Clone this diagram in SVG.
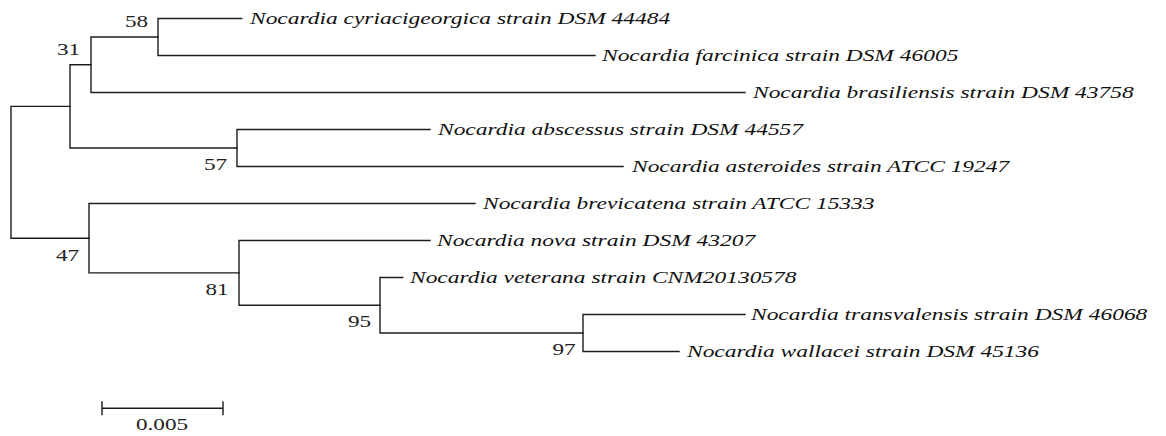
<svg xmlns="http://www.w3.org/2000/svg" width="1166" height="436" viewBox="0 0 1166 436">
<style>
.br{fill:none;stroke:#1c1c1c;stroke-width:1.4;stroke-linecap:square}
.lab{font-family:"Liberation Serif","Times New Roman",serif;font-style:italic;font-size:17px;fill:#111}
.bs{font-family:"Liberation Serif","Times New Roman",serif;font-size:17px;fill:#222;text-anchor:end}
.sc{font-family:"Liberation Serif","Times New Roman",serif;font-size:17px;fill:#222;text-anchor:middle}
</style>
<rect width="1166" height="436" fill="#fff"/>
<g id="connectors" class="br">
<path d="M11 106.4V238.2M11 106.4H70M11 238.2H89"/>
<path d="M70 64.75V148M70 64.75H91M70 148H237"/>
<path d="M91 37V92.5M91 37H158M91 92.5H745"/>
<path d="M158 18.5V55.5M158 18.5H241.7M158 55.5H595"/>
<path d="M237 129.5V166.5M237 129.5H430M237 166.5H623"/>
<path d="M89 203.5V272.9M89 203.5H475M89 272.9H239"/>
<path d="M239 240.5V305.25M239 240.5H430M239 305.25H380"/>
<path d="M380 277.5V333M380 277.5H402.7M380 333H583"/>
<path d="M583 314.5V351.5M583 314.5H745M583 351.5H679"/>
</g>
<g id="node-root"></g>
<g id="node-31"><text class="bs" transform="translate(80,55) scale(1.36,1)">31</text></g>
<g id="node-58"><text class="bs" transform="translate(148,27) scale(1.36,1)">58</text></g>
<g id="node-57"><text class="bs" transform="translate(227,170) scale(1.36,1)">57</text></g>
<g id="node-47"><text class="bs" transform="translate(79,261) scale(1.36,1)">47</text></g>
<g id="node-81"><text class="bs" transform="translate(228.5,295) scale(1.36,1)">81</text></g>
<g id="node-95"><text class="bs" transform="translate(371,327) scale(1.36,1)">95</text></g>
<g id="node-97"><text class="bs" transform="translate(575.5,355) scale(1.36,1)">97</text></g>
<g id="leaf-cyriacigeorgica"><text class="lab" transform="translate(250,23.5) scale(1.38,1)">Nocardia cyriacigeorgica strain DSM 44484</text></g>
<g id="leaf-farcinica"><text class="lab" transform="translate(602,60.5) scale(1.38,1)">Nocardia farcinica strain DSM 46005</text></g>
<g id="leaf-brasiliensis"><text class="lab" transform="translate(753,97.5) scale(1.38,1)">Nocardia brasiliensis strain DSM 43758</text></g>
<g id="leaf-abscessus"><text class="lab" transform="translate(438,134.5) scale(1.38,1)">Nocardia abscessus strain DSM 44557</text></g>
<g id="leaf-asteroides"><text class="lab" transform="translate(632,171.5) scale(1.38,1)">Nocardia asteroides strain ATCC 19247</text></g>
<g id="leaf-brevicatena"><text class="lab" transform="translate(483,208.5) scale(1.38,1)">Nocardia brevicatena strain ATCC 15333</text></g>
<g id="leaf-nova"><text class="lab" transform="translate(437,245.5) scale(1.38,1)">Nocardia nova strain DSM 43207</text></g>
<g id="leaf-veterana"><text class="lab" transform="translate(410,282.5) scale(1.38,1)">Nocardia veterana strain CNM20130578</text></g>
<g id="leaf-transvalensis"><text class="lab" transform="translate(751,319.5) scale(1.38,1)">Nocardia transvalensis strain DSM 46068</text></g>
<g id="leaf-wallacei"><text class="lab" transform="translate(687,356.5) scale(1.38,1)">Nocardia wallacei strain DSM 45136</text></g>
<g id="scale-bar">
<path class="br" d="M102 408.3H223M102 402V414.5M223 402V414.5"/>
<text class="sc" transform="translate(162,430) scale(1.36,1)">0.005</text>
</g>
</svg>
